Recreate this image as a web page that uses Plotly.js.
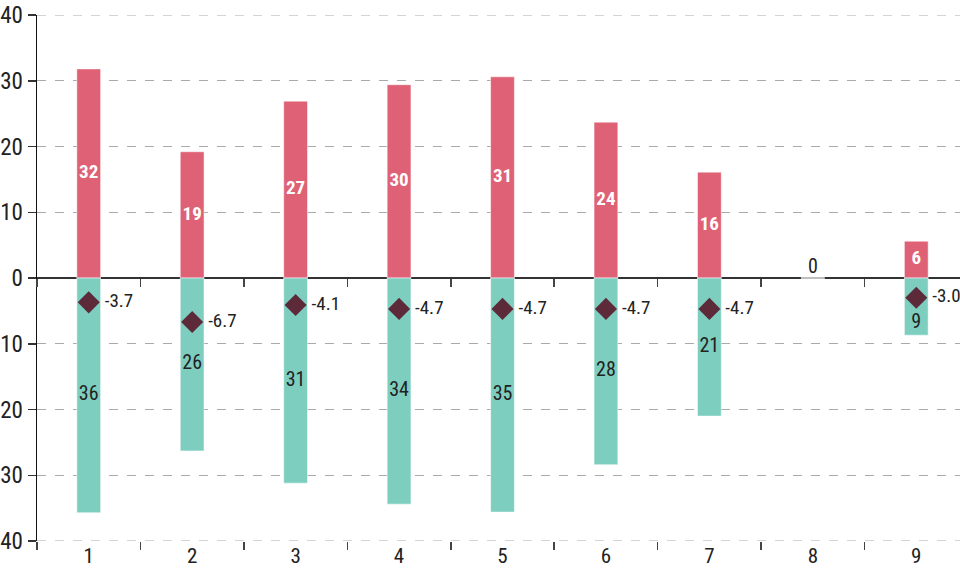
<!DOCTYPE html>
<html><head><meta charset="utf-8">
<script src="https://cdn.plot.ly/plotly-3.0.1.min.js"></script>
<style>html,body{margin:0;padding:0;overflow:hidden;background:#fff}#chart{width:968px;height:568px}</style>
</head><body><div id="chart"></div>
<script>
var categories = ['1','2','3','4','5','6','7','8','9'];
var positiveValues = [31.8, 19.2, 26.9, 29.4, 30.6, 23.7, 16.1, 0, 5.6];
var positiveLabels = ['32','19','27','30','31','24','16','0','6'];
var negativeValues = [35.7, 26.3, 31.2, 34.4, 35.6, 28.4, 21.0, 0, 8.7];
var negativeLabels = ['36','26','31','34','35','28','21','','9'];
var diamondCats = ['1','2','3','4','5','6','7','9'];
var diamondValues = [-3.7, -6.7, -4.1, -4.7, -4.7, -4.7, -4.7, -3.0];
var yTickVals = [40,30,20,10,0,-10,-20,-30,-40];
var yTickText = ['40','30','20','10','0','10','20','30','40'];

var FONT = "'Roboto Condensed','Liberation Sans Narrow','Arial Narrow','DejaVu Sans Condensed',sans-serif";
var RED = '#df6175', TEAL = '#7ecec0', DARK = '#5d2a39', TXT = '#222';

var negY = negativeValues.map(function(v){ return -v; });

var traces = [
  {type:'bar', x:categories, y:positiveValues, width:0.23, marker:{color:RED, line:{color:'rgba(255,255,255,0.5)', width:1}}, hoverinfo:'skip'},
  {type:'bar', x:categories, y:negY, width:0.23, marker:{color:TEAL, line:{color:'rgba(255,255,255,0.5)', width:1}}, hoverinfo:'skip'},
  {type:'scatter', mode:'text', x:categories.filter(function(c,i){return positiveValues[i]>0;}),
   y:positiveValues.filter(function(v){return v>0;}).map(function(v){return v/2;}),
   text:positiveLabels.filter(function(t,i){return positiveValues[i]>0;}),
   textfont:{family:FONT, size:19, color:'#ffffff', weight:'bold'}, hoverinfo:'skip'},
  {type:'scatter', mode:'text', x:categories.filter(function(c,i){return positiveValues[i]===0;}),
   y:positiveValues.filter(function(v){return v===0;}),
   text:positiveLabels.filter(function(t,i){return positiveValues[i]===0;}),
   textposition:'top center', textfont:{family:FONT, size:20, color:TXT}, hoverinfo:'skip'},
  {type:'scatter', mode:'text', x:categories.filter(function(c,i){return negativeValues[i]>0;}),
   y:negativeValues.filter(function(v){return v>0;}).map(function(v){ return v<10 ? -(v-1.9) : -v/2; }),
   text:negativeLabels.filter(function(t,i){return negativeValues[i]>0;}),
   textfont:{family:FONT, size:20, color:TXT}, hoverinfo:'skip'},
  {type:'scatter', mode:'markers+text', x:diamondCats, y:diamondValues,
   text:diamondValues.map(function(v){return ' ' + v.toFixed(1);}), textposition:'middle right',
   marker:{symbol:'diamond', size:17, color:DARK},
   textfont:{family:FONT, size:19, color:TXT}, hoverinfo:'skip'},
  {type:'scatter', mode:'markers', x:categories, y:positiveValues, xaxis:'x2', marker:{opacity:0}, hoverinfo:'skip', showlegend:false}
];

var layout = {
  width:968, height:568,
  margin:{l:37, r:0, t:15, b:27},
  paper_bgcolor:'#fff', plot_bgcolor:'#fff',
  showlegend:false, barmode:'overlay', bargap:0,
  font:{family:FONT, size:20, color:TXT},
  xaxis:{type:'category', categoryorder:'array', categoryarray:categories, range:[-0.5,8.5],
    showgrid:false, zeroline:false, showline:false, ticks:'outside', tickson:'boundaries',
    ticklen:8, tickwidth:1.5, tickcolor:'#444', tickfont:{family:FONT, size:21, color:TXT}},
  xaxis2:{type:'category', categoryorder:'array', categoryarray:categories, range:[-0.5,8.5],
    overlaying:'x', anchor:'free', position:0.5, side:'bottom', matches:'x',
    showgrid:false, zeroline:false, showline:false, ticks:'outside', tickson:'boundaries',
    ticklen:8, tickwidth:1.5, tickcolor:'#444', showticklabels:false},
  yaxis:{range:[-40,40], tickvals:yTickVals, ticktext:yTickText,
    showgrid:true, gridcolor:'#aaaaaa', griddash:'dash', gridwidth:1,
    zeroline:true, zerolinecolor:'#333', zerolinewidth:1.5,
    showline:true, linecolor:'#111', linewidth:1.5,
    ticks:'outside', ticklen:8, tickwidth:1.5, tickcolor:'#333',
    tickfont:{family:FONT, size:23, color:TXT}},
  shapes:[
    {type:'line', xref:'paper', x0:0, x1:1, yref:'y', y0:40, y1:40, line:{color:'#aaaaaa', width:1, dash:'dash'}, layer:'below'},
    {type:'line', xref:'paper', x0:0, x1:1, yref:'y', y0:-40, y1:-40, line:{color:'#aaaaaa', width:1, dash:'dash'}, layer:'below'}
  ]
};

Plotly.newPlot('chart', traces, layout, {displayModeBar:false, staticPlot:true});
</script></body></html>
